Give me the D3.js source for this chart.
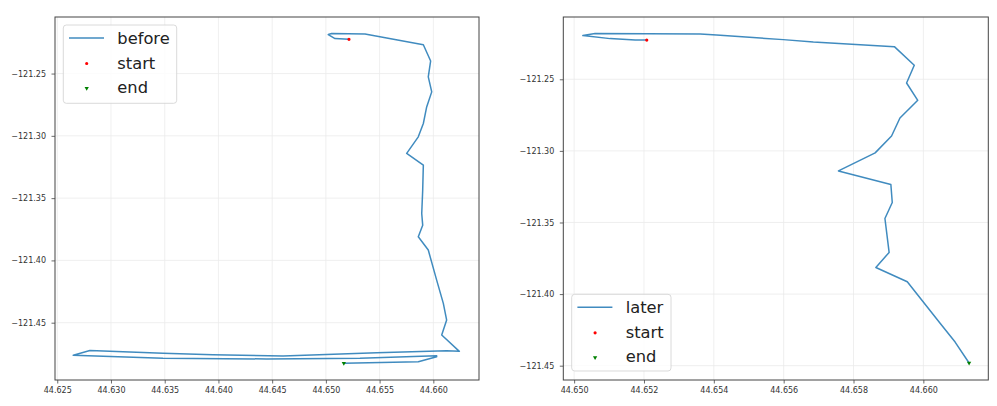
<!DOCTYPE html>
<html><head><meta charset="utf-8">
<script src="https://cdn.jsdelivr.net/npm/d3@7"></script>
<style>body{margin:0;background:#fff}svg{display:block;font-family:"DejaVu Sans",sans-serif}</style>
</head><body>
<svg id="chart" width="997" height="406"></svg>
<script>
// "before" track
const beforeX = [44.65215,44.65085,44.65022,44.65054,44.65364,44.65907,44.65975,44.65953,44.65985,44.65938,
  44.65907,44.65860,44.65752,44.65907,44.65901,44.65892,44.65901,44.65860,44.65953,44.66031,
  44.66093,44.66124,44.66078,44.66242,44.66124,44.65473,44.64601,44.63949,44.63484,44.62804,
  44.62649,44.63484,44.64449,44.65317,44.66031,44.66031,44.65860,44.65167];
const beforeY = [-121.2225,-121.2219,-121.2187,-121.2179,-121.2182,-121.2269,-121.2399,-121.2527,-121.2647,-121.2768,
  -121.2901,-121.3008,-121.3141,-121.3235,-121.3436,-121.3623,-121.3717,-121.3810,-121.3917,-121.4158,
  -121.4345,-121.4479,-121.4599,-121.4730,-121.4725,-121.4741,-121.4767,-121.4757,-121.4746,-121.4723,
  -121.4762,-121.4786,-121.4791,-121.4786,-121.4765,-121.4773,-121.4813,-121.4826];
// "later" track
const laterX = [44.65208,44.65175,44.65103,44.65025,44.65060,44.65361,44.65408,44.65599,44.65685,44.65917,
  44.65974,44.65952,44.65984,44.65933,44.65909,44.65862,44.65757,44.65907,44.65911,44.65890,
  44.65902,44.65864,44.65954,44.66048,44.66091,44.66131];
const laterY = [-121.2226,-121.2226,-121.2216,-121.2195,-121.2181,-121.2184,-121.2191,-121.2223,-121.2240,-121.2272,
  -121.2402,-121.2526,-121.2647,-121.2770,-121.2896,-121.3014,-121.3140,-121.3235,-121.3360,-121.3472,
  -121.3709,-121.3814,-121.3914,-121.4204,-121.4335,-121.4481];

const beforeXTicks = [44.625,44.630,44.635,44.640,44.645,44.650,44.655,44.660];
const laterXTicks = [44.650,44.652,44.654,44.656,44.658,44.660];
const yTicks = [-121.25,-121.30,-121.35,-121.40,-121.45];
const seriesNames = ["before","later"];
const markerNames = ["start","end"];

const svg = d3.select("#chart");
svg.append("rect").attr("width",997).attr("height",406).attr("fill","#fff");

function panel(o){
  const x = d3.scaleLinear().domain(o.xDomain).range([o.left,o.right]);
  const y = d3.scaleLinear().domain(o.yDomain).range([o.bottom,o.top]);
  const g = svg.append("g");
  // grid
  g.append("g").selectAll("line").data(o.xTicks).join("line")
    .attr("x1",d=>x(d)).attr("x2",d=>x(d)).attr("y1",o.top).attr("y2",o.bottom)
    .attr("stroke","#ebebeb").attr("stroke-width",0.8);
  g.append("g").selectAll("line").data(yTicks).join("line")
    .attr("y1",d=>y(d)).attr("y2",d=>y(d)).attr("x1",o.left).attr("x2",o.right)
    .attr("stroke","#ebebeb").attr("stroke-width",0.8);
  // line
  const pts = o.xs.map((v,i)=>[v,o.ys[i]]);
  g.append("path").datum(pts)
    .attr("d",d3.line().x(d=>x(d[0])).y(d=>y(d[1])))
    .attr("fill","none").attr("stroke","#1f77b4").attr("stroke-opacity",0.85).attr("stroke-width",1.5)
    .attr("stroke-linejoin","round");
  // markers
  const s = pts[0], e = pts[pts.length-1];
  g.append("path").attr("d",d3.symbol(d3.symbolCircle,8)())
    .attr("transform",`translate(${x(s[0])},${y(s[1])})`).attr("fill","#ff0000");
  g.append("path").attr("d",d3.symbol(d3.symbolTriangle,8)())
    .attr("transform",`translate(${x(e[0])},${y(e[1])}) rotate(180)`).attr("fill","#008000");
  // axes
  const ax = g.append("g").attr("transform",`translate(0,${o.bottom})`)
    .call(d3.axisBottom(x).tickValues(o.xTicks).tickFormat(d3.format(".3f")).tickSize(3.5).tickPadding(3.5).tickSizeOuter(0));
  const ay = g.append("g").attr("transform",`translate(${o.left},0)`)
    .call(d3.axisLeft(y).tickValues(yTicks).tickFormat(d3.format(".2f")).tickSize(3.5).tickPadding(5.5).tickSizeOuter(0));
  [ax,ay].forEach(a=>{
    a.select(".domain").remove();
    a.selectAll("text").attr("font-size",8).attr("fill","#333").attr("font-family","DejaVu Sans");
    a.selectAll("line").attr("stroke","#444").attr("stroke-width",0.8);
  });
  // spines
  g.append("rect").attr("x",o.left).attr("y",o.top).attr("width",o.right-o.left).attr("height",o.bottom-o.top)
    .attr("fill","none").attr("stroke","#444").attr("stroke-width",1);
  // legend
  const L = o.legend;
  const lg = g.append("g").attr("transform",`translate(${L.x},${L.y})`);
  lg.append("rect").attr("width",L.w).attr("height",L.h).attr("rx",3)
    .attr("fill","#fff").attr("fill-opacity",0.8).attr("stroke","#d0d0d0").attr("stroke-width",0.8);
  const rows = [13, 38, 62.3];
  lg.append("line").attr("x1",5.7).attr("x2",40.7).attr("y1",rows[0]).attr("y2",rows[0])
    .attr("stroke","#1f77b4").attr("stroke-opacity",0.85).attr("stroke-width",1.5);
  lg.append("path").attr("d",d3.symbol(d3.symbolCircle,8)()).attr("transform",`translate(23.4,${rows[1]+0.5})`).attr("fill","#ff0000");
  lg.append("path").attr("d",d3.symbol(d3.symbolTriangle,8)()).attr("transform",`translate(23.4,${rows[2]+1}) rotate(180)`).attr("fill","#008000");
  const labels = [o.name].concat(markerNames);
  lg.selectAll("text.lab").data(labels).join("text").attr("class","lab")
    .attr("x",54).attr("y",(d,i)=>rows[i]).attr("dy","0.35em")
    .attr("font-size",16.3).attr("fill","#222").attr("font-family","DejaVu Sans").text(d=>d);
}

panel({name:seriesNames[0], xs:beforeX, ys:beforeY, xTicks:beforeXTicks,
  xDomain:[44.62479,44.66425], yDomain:[-121.496,-121.2046],
  left:55, right:479, top:17, bottom:380,
  legend:{x:63.3,y:25,w:113.4,h:78.3}});
panel({name:seriesNames[1], xs:laterX, ys:laterY, xTicks:laterXTicks,
  xDomain:[44.64969,44.66186], yDomain:[-121.460,-121.2065],
  left:563.3, right:988.3, top:17, bottom:380,
  legend:{x:571.7,y:294.3,w:99.3,h:76.7}});
</script>
</body></html>
